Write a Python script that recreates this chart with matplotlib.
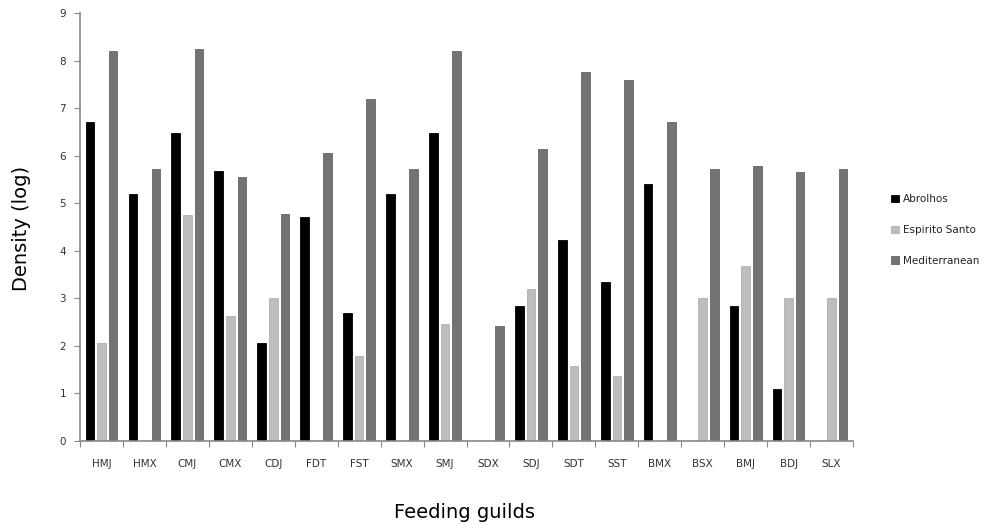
import matplotlib
matplotlib.use("Agg")
import matplotlib.pyplot as plt
import numpy as np

categories = ["HMJ", "HMX", "CMJ", "CMX", "CDJ", "FDT", "FST", "SMX", "SMJ",
              "SDX", "SDJ", "SDT", "SST", "BMX", "BSX", "BMJ", "BDJ", "SLX"]
abrolhos = [6.7, 5.2, 6.48, 5.68, 2.07, 4.7, 2.7, 5.2, 6.47,
            0, 2.83, 4.22, 3.35, 5.4, 0, 2.83, 1.1, 0]
espirito_santo = [2.07, 0, 4.75, 2.62, 3.0, 0, 1.78, 0, 2.47,
                  0, 3.2, 1.58, 1.37, 0, 3.0, 3.67, 3.0, 3.0]
mediterranean = [8.2, 5.72, 8.25, 5.55, 4.77, 6.05, 7.2, 5.72, 8.2,
                 2.42, 6.15, 7.77, 7.6, 6.7, 5.72, 5.78, 5.65, 5.72]
series_names = ["Abrolhos", "Espirito Santo", "Mediterranean"]
y_ticks = [0, 1, 2, 3, 4, 5, 6, 7, 8, 9]

fig = plt.figure(figsize=(10, 5.31), dpi=100)
ax = fig.add_axes([0.08, 0.1695, 0.773, 0.806])

x = np.arange(len(categories))
w = 0.2
colors = ["#000000", "#bdbdbd", "#737373"]
edges = ["#000000", "#b0b0b0", "#666666"]
for k, (vals, name) in enumerate(zip([abrolhos, espirito_santo, mediterranean], series_names)):
    ax.bar(x + (k - 1) * 0.27, vals, width=w, color=colors[k], edgecolor=edges[k],
           linewidth=0.6, label=name)

ax.set_xlim(-0.5, len(categories) - 0.5)
ax.set_ylim(0, 9)
ax.set_yticks(y_ticks)
ax.set_xticks(np.arange(len(categories) + 1) - 0.5, minor=False)
ax.set_xticklabels([])
ax.set_xticks(x, minor=True)
ax.set_xticklabels(categories, minor=True, fontsize=7.5, color="#333333")
ax.tick_params(axis="x", which="minor", length=0, pad=13)
ax.tick_params(axis="x", which="major", length=4, color="#888888", direction="out")
ax.tick_params(axis="y", length=4, color="#888888", labelsize=7.5, labelcolor="#333333", pad=6)

for s in ["top", "right"]:
    ax.spines[s].set_visible(False)
for s in ["left", "bottom"]:
    ax.spines[s].set_color("#888888")
    ax.spines[s].set_linewidth(1.2)

fig.text(0.022, 0.57, "Density (log)", rotation=90, fontsize=14, va="center", ha="center")
fig.text(0.465, 0.035, "Feeding guilds", fontsize=14, ha="center", va="center")

leg = fig.legend(loc="center left", bbox_to_anchor=(0.882, 0.567), frameon=False,
                 fontsize=7.5, handlelength=0.7, handleheight=0.7, handletextpad=0.4,
                 labelspacing=2.0)
for t in leg.get_texts():
    t.set_color("#222222")

fig.savefig("out.png", dpi=100)
